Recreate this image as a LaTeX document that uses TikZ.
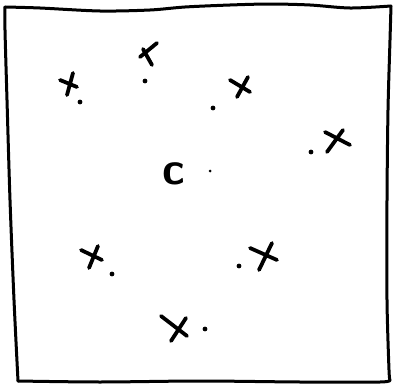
\documentclass[tikz,border=0pt]{standalone}
\tikzset{
  sketch/.style={line width=3pt, line cap=round, line join=round},
  xmark/.style={line width=3.8pt, line cap=round},
  dotmark/.style={fill, radius=2.4pt}
}
\begin{document}
\begin{tikzpicture}[x=1pt,y=-1pt]
  \useasboundingbox (0,0) rectangle (394,388);
  % the box
  \draw[sketch] plot[smooth] coordinates {(5,7) (40,8) (100,11) (150,10) (185,7) (230,5) (270,4) (310,5) (350,8) (391,6)};
  \draw[sketch] plot[smooth] coordinates {(391,6) (390,40) (388,110) (387,200) (387,300) (389,370) (390,380)};
  \draw[sketch] plot[smooth] coordinates {(390,380) (380,382) (300,382) (200,381) (100,382) (18,381)};
  \draw[sketch] plot[smooth] coordinates {(18,381) (14,300) (10,200) (7,100) (5,30) (5,7)};
  % crosses
  \draw[xmark] (60,80) -- (77,87)  (73,73) -- (67,95);
  \draw[xmark] (140,57) -- (157,43)  (143,49) -- (152,65);
  \draw[xmark] (230,80) -- (250,92)  (248,77) -- (237,97);
  \draw[xmark] (325,132) -- (350,145)  (343,130) -- (327,152);
  \draw[xmark] (81,250) -- (102,260)  (98,246) -- (89,268);
  \draw[xmark] (250,248) -- (277,260)  (272,243) -- (259,270);
  \draw[xmark] (161,316) -- (187,336)  (186,318) -- (171,341);
  % dots
  \fill[dotmark] (80,102) circle;
  \fill[dotmark] (145,81) circle;
  \fill[dotmark] (213,108) circle;
  \fill[dotmark] (311,152) circle;
  \fill[dotmark] (112,274) circle;
  \fill[dotmark] (239,266) circle;
  \fill[dotmark] (205,329) circle;
  \fill (210,171) circle (1.5pt);
  % centre
  \node[inner sep=0pt, font=\fontsize{46}{46}\selectfont\sffamily\bfseries] (c) at (174,174) {c};
\end{tikzpicture}
\end{document}
